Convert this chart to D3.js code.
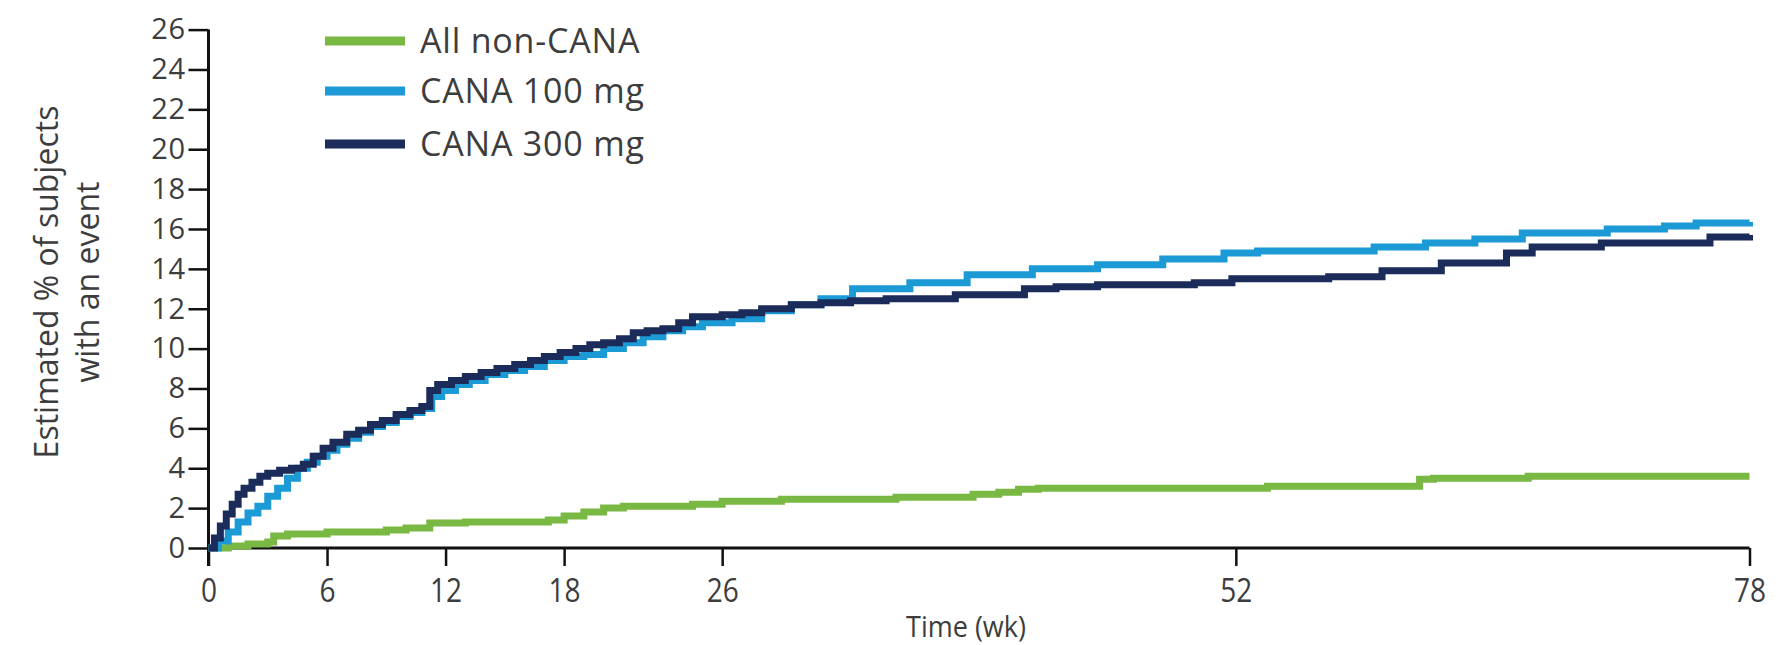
<!DOCTYPE html>
<html>
<head>
<meta charset="utf-8">
<script src="https://cdn.jsdelivr.net/npm/d3@7"></script>
<style>
  html, body { margin: 0; padding: 0; background: #ffffff; }
  svg { display: block; }
  text { font-family: "Open Sans", "Noto Sans", sans-serif; fill: #3d3d3d; }
</style>
</head>
<body>
<svg id="chart" width="1787" height="645"></svg>
<script>
// Kaplan–Meier style cumulative incidence, weeks vs estimated % with an event
const weekTicks = [0, 6, 12, 18, 26, 52, 78];
const pctTicks = [0, 2, 4, 6, 8, 10, 12, 14, 16, 18, 20, 22, 24, 26];

const seriesNames = ["All non-CANA", "CANA 100 mg", "CANA 300 mg"];
const seriesColors = ["#78b843", "#1b9ad6", "#1b2b5a"];

// [week, %] step points
const nonCana = [
  [0, 0], [1, 0.1], [2, 0.2], [3, 0.3], [3.3, 0.6], [4, 0.7], [6, 0.8], [9, 0.9],
  [10, 1.0], [11.2, 1.25], [13, 1.3], [17.2, 1.4], [18, 1.6], [19, 1.8], [20, 2.0],
  [21, 2.1], [24.5, 2.2], [26, 2.35], [29, 2.45], [34.8, 2.55], [38.7, 2.7], [40, 2.8],
  [41, 2.95], [42, 3.0], [53.6, 3.1], [61.3, 3.45], [62, 3.5], [66.8, 3.6], [78, 3.6]
];

const cana100 = [
  [0, 0], [0.5, 0.35], [1.0, 0.8], [1.5, 1.3], [2.0, 1.75], [2.5, 2.1], [3.0, 2.6],
  [3.5, 3.0], [4.0, 3.5], [4.5, 4.0], [5.0, 4.3], [5.5, 4.6], [6.0, 4.9], [6.5, 5.2],
  [7.0, 5.5], [7.6, 5.8], [8.2, 6.1], [8.8, 6.3], [9.5, 6.6], [10.2, 6.8], [10.8, 7.0],
  [11.3, 7.6], [11.8, 7.9], [12.5, 8.2], [13.2, 8.4], [14.0, 8.7], [15.0, 8.9],
  [16.0, 9.1], [17.0, 9.4], [18.0, 9.6], [19.0, 9.7], [20.0, 10.0], [21.0, 10.3],
  [22.0, 10.6], [23.0, 10.9], [24.0, 11.1], [25.0, 11.3], [26.5, 11.5], [28.0, 11.9],
  [29.5, 12.2], [31.0, 12.5], [32.6, 13.0], [35.5, 13.3], [38.4, 13.7], [41.7, 14.0],
  [45.0, 14.2], [48.3, 14.5], [51.4, 14.8], [53.1, 14.9], [59.0, 15.1], [61.6, 15.3],
  [64.1, 15.5], [66.5, 15.8], [70.8, 16.0], [73.7, 16.15], [75.3, 16.3], [78, 16.35]
];

const cana300 = [
  [0, 0], [0.3, 0.5], [0.6, 1.1], [0.9, 1.7], [1.2, 2.2], [1.5, 2.7], [1.8, 3.0],
  [2.2, 3.3], [2.6, 3.6], [3.0, 3.75], [3.6, 3.9], [4.2, 4.0], [4.8, 4.2], [5.3, 4.6],
  [5.8, 5.0], [6.3, 5.3], [7.0, 5.7], [7.6, 5.9], [8.2, 6.2], [8.8, 6.4], [9.5, 6.7],
  [10.2, 6.9], [10.8, 7.1], [11.2, 7.9], [11.6, 8.2], [12.3, 8.4], [13.0, 8.6],
  [13.8, 8.8], [14.6, 9.0], [15.5, 9.2], [16.3, 9.4], [17.0, 9.6], [17.8, 9.8],
  [18.6, 10.0], [19.3, 10.2], [20.0, 10.3], [20.8, 10.5], [21.5, 10.8], [22.2, 10.9],
  [23.0, 11.0], [23.8, 11.3], [24.5, 11.6], [26.0, 11.7], [27.0, 11.8], [28.0, 12.0],
  [29.5, 12.2], [31.0, 12.3], [32.5, 12.4], [34.3, 12.5], [37.8, 12.7], [41.3, 13.0],
  [42.9, 13.1], [45.0, 13.2], [49.9, 13.3], [51.8, 13.5], [56.7, 13.6], [59.4, 13.9],
  [62.4, 14.3], [65.7, 14.8], [67.0, 15.1], [70.5, 15.3], [76.0, 15.6], [78, 15.7]
];

const seriesData = [nonCana, cana100, cana300];

const svg = d3.select("#chart");

const x = d3.scaleLinear().domain([0, 78]).range([208.5, 1749.5]);
const y = d3.scaleLinear().domain([0, 26]).range([548, 29.6]);

// y axis
const yAxis = svg.append("g")
  .attr("transform", `translate(${x(0)},0)`)
  .call(d3.axisLeft(y).tickValues(pctTicks).tickSize(20).tickPadding(3).tickFormat(d3.format("d")));
yAxis.select(".domain").attr("d", `M0,${y(26)}V${y(0) + 18}`).attr("stroke", "#111").attr("stroke-width", 3);
yAxis.selectAll(".tick line").attr("stroke", "#111").attr("stroke-width", 2.5);
yAxis.selectAll(".tick text").attr("font-size", 29).attr("fill", "#3d3d3d")
  .attr("letter-spacing", 0.5)
  .style("font-family", "'Open Sans', sans-serif");

// x axis
const xAxis = svg.append("g")
  .attr("transform", `translate(0,${y(0)})`)
  .call(d3.axisBottom(x).tickValues(weekTicks).tickSize(18).tickPadding(13).tickFormat(d3.format("d")));
xAxis.select(".domain").attr("d", `M${x(0)},0H${x(78)}`).attr("stroke", "#111").attr("stroke-width", 3);
xAxis.selectAll(".tick line").attr("stroke", "#111").attr("stroke-width", 2.5);
xAxis.selectAll(".tick text").attr("font-size", 33).attr("fill", "#3d3d3d")
  .attr("transform", "scale(0.85,1)")
  .style("font-family", "'Open Sans', sans-serif");

// axis titles
svg.append("text")
  .attr("transform", "translate(966,637) scale(0.9,1)")
  .attr("text-anchor", "middle")
  .attr("font-size", 30)
  .text("Time (wk)");

const yTitle = svg.append("text")
  .attr("transform", "translate(58,282) rotate(-90)")
  .attr("text-anchor", "middle")
  .attr("font-size", 32);
yTitle.append("tspan").attr("x", 0).attr("dy", 0).text("Estimated % of subjects");
yTitle.append("tspan").attr("x", 0).attr("dy", 41).text("with an event");

// curves
const line = d3.line()
  .x(d => x(d[0]))
  .y(d => y(d[1]))
  .curve(d3.curveStepAfter);

svg.append("g").selectAll("path")
  .data(seriesData)
  .join("path")
  .attr("d", d => line(d))
  .attr("fill", "none")
  .attr("stroke", (d, i) => seriesColors[i])
  .attr("stroke-width", 7)
  .attr("stroke-linejoin", "miter");

// legend
const legend = svg.append("g");
const legendY = [41, 91, 144];
seriesNames.forEach((name, i) => {
  legend.append("line")
    .attr("x1", 325).attr("x2", 405)
    .attr("y1", legendY[i]).attr("y2", legendY[i])
    .attr("stroke", seriesColors[i])
    .attr("stroke-width", 9);
  legend.append("text")
    .attr("x", 420).attr("y", legendY[i])
    .attr("dy", "0.35em")
    .attr("font-size", 34)
    .attr("letter-spacing", 0.8)
    .text(name);
});
</script>
</body>
</html>
